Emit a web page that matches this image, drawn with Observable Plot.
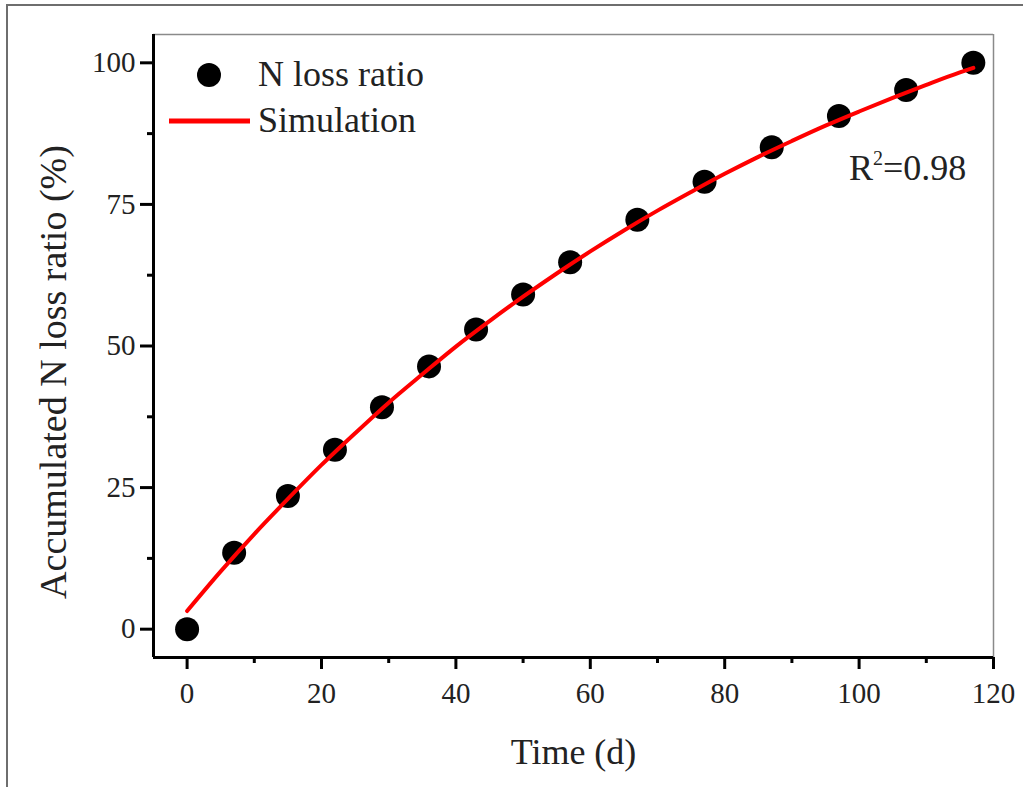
<!DOCTYPE html>
<html>
<head>
<meta charset="utf-8">
<script src="https://cdn.jsdelivr.net/npm/d3@7"></script>
<script src="https://cdn.jsdelivr.net/npm/@observablehq/plot@0.6"></script>
<style>
  html, body { margin: 0; padding: 0; background: #fff; overflow: hidden; }
  #wrap { position: relative; width: 1023px; height: 787px; }
  #border { position: absolute; left: 6px; top: 4px; width: 2000px; height: 2000px;
            border-left: 2px solid #6e6e6e; border-top: 2px solid #6e6e6e; pointer-events: none; }
  #chart { position: absolute; left: 0; top: 0; }
</style>
</head>
<body>
<div id="wrap"><div id="chart"></div><div id="border"></div></div>
<script>
// Measured N loss ratio (%)
const timeDays = [0, 7, 15, 22, 29, 36, 43, 50, 57, 67, 77, 87, 97, 107, 117];
const lossRatio = [0, 13.5, 23.5, 31.7, 39.2, 46.4, 52.9, 59.1, 64.8, 72.3, 79.0, 85.1, 90.6, 95.2, 100.0];

// Simulation curve
const simTime = [0, 5, 10, 15, 20, 25, 30, 35, 40, 45, 50, 55, 60, 65, 70, 75, 80, 85, 90, 95, 100, 105, 110, 115, 117];
const simValue = [3.2, 10.2, 16.8, 23.0, 29.0, 34.6, 40.0, 45.0, 49.9, 54.4, 58.7, 62.8, 66.7, 70.4, 73.9, 77.2, 80.4, 83.4, 86.2, 88.9, 91.4, 93.8, 96.1, 98.3, 99.1];

// Axes
const xDomain = [-5, 120];
const yDomain = [-5, 105];
const xMajorTicks = [0, 20, 40, 60, 80, 100, 120];
const xMinorTicks = [10, 30, 50, 70, 90, 110];
const yMajorTicks = [0, 25, 50, 75, 100];
const yMinorTicks = [12.5, 37.5, 62.5, 87.5];

const xLabel = "Time (d)";
const yLabel = "Accumulated N loss ratio (%)";
const legendLabels = ["N loss ratio", "Simulation"];
const r2Base = "R";
const r2Sup = "2";
const r2Rest = "=0.98";

const points = timeDays.map((t, i) => ({t, v: lossRatio[i]}));
const sim = simTime.map((t, i) => ({t, v: simValue[i]}));

const FONT = "'Liberation Serif', 'Times New Roman', serif";
const TXT = "#222";

const plot = Plot.plot({
  width: 1023,
  height: 787,
  marginLeft: 153,
  marginRight: 30,
  marginTop: 34,
  marginBottom: 130,
  style: {fontFamily: FONT, background: "white", overflow: "visible"},
  x: {domain: xDomain},
  y: {domain: yDomain},
  marks: [
    // frame: top & right thin gray
    Plot.ruleY([yDomain[1]], {stroke: "#8a8a8a", strokeWidth: 1.5}),
    Plot.ruleX([xDomain[1]], {stroke: "#8a8a8a", strokeWidth: 1.5}),
    // major ticks and labels
    Plot.axisX({ticks: xMajorTicks, tickSize: 12, tickPadding: 13, strokeWidth: 3, stroke: "black",
                fontSize: 29, color: TXT, label: null, tickFormat: d => String(d)}),
    Plot.axisX({ticks: xMinorTicks, tickSize: 6, strokeWidth: 3, stroke: "black", tickFormat: () => "", label: null}),
    Plot.axisY({ticks: yMajorTicks, tickSize: 13, tickPadding: 5, strokeWidth: 3, stroke: "black",
                fontSize: 29, color: TXT, label: null, tickFormat: d => String(d)}),
    Plot.axisY({ticks: yMinorTicks, tickSize: 6, strokeWidth: 3, stroke: "black", tickFormat: () => "", label: null}),
    // axis lines: left & bottom thick black
    Plot.ruleX([xDomain[0]], {stroke: "black", strokeWidth: 3}),
    Plot.ruleY([yDomain[0]], {stroke: "black", strokeWidth: 3}),
    // axis titles
    Plot.text([xLabel], {frameAnchor: "bottom", dy: 106, lineAnchor: "bottom", fontSize: 36, fill: TXT}),
    Plot.text([yLabel], {frameAnchor: "left", dx: -100, dy: 26, rotate: -90, lineAnchor: "middle", textAnchor: "middle", fontSize: 38, fill: TXT}),
    // data
    Plot.dot(points, {x: "t", y: "v", r: 12, fill: "black", stroke: "none"}),
    Plot.line(sim, {x: "t", y: "v", stroke: "#ff0000", strokeWidth: 4, curve: "monotone-x"})
  ]
});

document.getElementById("chart").appendChild(plot);

// Legend and R² annotation (drawn into the same SVG)
const svg = d3.select(plot);
const lg = svg.append("g").attr("font-family", FONT).attr("font-size", 36).attr("fill", TXT).attr("text-anchor", "start");
lg.append("circle").attr("cx", 209).attr("cy", 75).attr("r", 12).attr("fill", "black");
lg.append("text").attr("x", 258).attr("y", 86).text(legendLabels[0]);
lg.append("line").attr("x1", 169).attr("x2", 250).attr("y1", 121).attr("y2", 121)
  .attr("stroke", "#ff0000").attr("stroke-width", 5);
lg.append("text").attr("x", 258).attr("y", 132).text(legendLabels[1]);

const r2 = lg.append("text").attr("x", 849).attr("y", 180);
r2.append("tspan").text(r2Base);
r2.append("tspan").attr("font-size", 20).attr("dy", -15).text(r2Sup);
r2.append("tspan").attr("dy", 15).text(r2Rest);
</script>
</body>
</html>
